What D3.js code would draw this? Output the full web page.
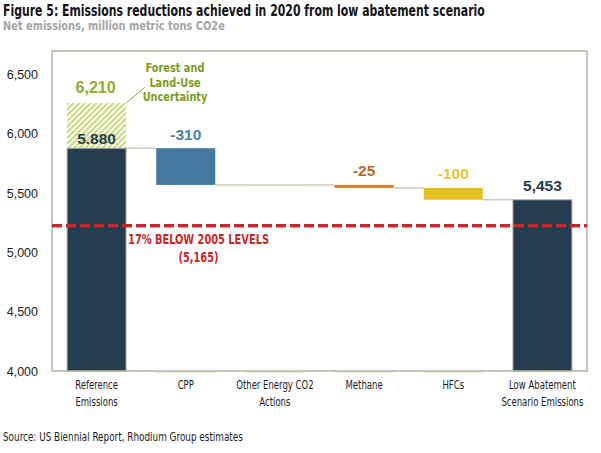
<!DOCTYPE html>
<html>
<head>
<meta charset="utf-8">
<script src="https://cdn.jsdelivr.net/npm/d3@7"></script>
<style>
  html, body { margin: 0; padding: 0; background: #fff; }
  svg { display: block; }
  .narrow { font-family: "Liberation Sans Narrow", "Arial Narrow", "DejaVu Sans Condensed", sans-serif; }
  .reg { font-family: "Liberation Sans", Arial, sans-serif; }
</style>
</head>
<body>
<svg id="chart" width="601" height="453"></svg>
<script>
// ---------- data ----------
const titleText = "Figure 5: Emissions reductions achieved in 2020 from low abatement scenario";
const subtitleText = "Net emissions, million metric tons CO2e";
const sourceText = "Source: US Biennial Report, Rhodium Group estimates";

const categories = [
  ["Reference", "Emissions"],
  ["CPP"],
  ["Other Energy CO2", "Actions"],
  ["Methane"],
  ["HFCs"],
  ["Low Abatement", "Scenario Emissions"]
];
// first value is the starting total, middle values are changes, last is the resulting total
const changes = [5880, -310, 0, -25, -100, null];
const barKinds = ["total", "delta", "delta", "delta", "delta", "total"];
const valueLabels = ["5.880", "-310", "", "-25", "-100", "5,453"];
const barColors = ["#263d4f", "#457aa0", "#ffffff", "#e07b26", "#e3c11f", "#263d4f"];
const labelColors = ["#263d4f", "#4a7fa9", "#ffffff", "#c4661e", "#e8c43a", "#263d4f"];

const uncertaintyTop = 6260;
const uncertaintyLabel = "6,210";
const uncertaintyNote = ["Forest and", "Land-Use", "Uncertainty"];

const targetLevel = 5225;
const targetLabel = ["17% BELOW 2005 LEVELS", "(5,165)"];

const yTicks = [4000, 4500, 5000, 5500, 6000, 6500];
const yDomain = [4000, 6700];

// ---------- helpers ----------
// place a horizontally condensed text at (px, py) using a scale transform
function addText(parent, px, py, str, k, attrs) {
  const t = parent.append("text").attr("x", 0).attr("y", 0)
    .attr("transform", `translate(${px},${py}) scale(${k},1)`).text(str);
  Object.entries(attrs).forEach(([a, v]) => t.attr(a, v));
  return t;
}
function fitWidth(t, px, py, target) {
  const w = t.node().getComputedTextLength();
  t.attr("transform", `translate(${px},${py}) scale(${target / w},1)`);
}

// ---------- layout ----------
const svg = d3.select("#chart");
const plot = { left: 52, right: 587, top: 51, bottom: 371 };

const y = d3.scaleLinear().domain(yDomain).range([plot.bottom, plot.top]);
const x = d3.scaleBand().domain(d3.range(categories.length))
  .range([plot.left, plot.right]).paddingInner(0.338).paddingOuter(0.169);

// compute waterfall bars
let running = 0;
const bars = changes.map((v, i) => {
  let lo, hi, end;
  if (barKinds[i] === "total") {
    const val = (v === null) ? running : v;
    lo = yDomain[0]; hi = val; end = val; running = val;
  } else {
    const start = running; end = running + v; running = end;
    lo = Math.min(start, end); hi = Math.max(start, end);
  }
  return { i, lo, hi, end, kind: barKinds[i] };
});

// hatch pattern
const defs = svg.append("defs");
const pat = defs.append("pattern").attr("id", "hatch")
  .attr("patternUnits", "userSpaceOnUse").attr("width", 4).attr("height", 4)
  .attr("patternTransform", "rotate(45)");
pat.append("rect").attr("width", 4).attr("height", 4).attr("fill", "#ffffff");
pat.append("rect").attr("width", 2.2).attr("height", 4).attr("fill", "#c9dc82");

// title
const title = addText(svg, 3, 15.5, titleText, 1, {
  class: "narrow", "font-size": 16, "font-weight": "bold", fill: "#141414" });
fitWidth(title, 3, 15.5, 482);
const subtitle = addText(svg, 3, 30, subtitleText, 1, {
  class: "narrow", "font-size": 12.5, "font-weight": "bold", fill: "#a5a5a5" });
fitWidth(subtitle, 3, 30, 222);

// uncertainty hatched bar
svg.append("rect")
  .attr("x", x(0)).attr("width", x.bandwidth())
  .attr("y", y(uncertaintyTop)).attr("height", y(changes[0]) - y(uncertaintyTop))
  .attr("fill", "url(#hatch)");

// faint base lines under delta bars
svg.append("g").selectAll("line").data(bars.filter(b => b.kind === "delta")).join("line")
  .attr("x1", d => x(d.i)).attr("x2", d => x(d.i) + x.bandwidth())
  .attr("y1", plot.bottom + 1.5).attr("y2", plot.bottom + 1.5)
  .attr("stroke", "#e4e1d8").attr("stroke-width", 1);

// connectors
const conn = [];
for (let k = 0; k < bars.length - 1; k++) {
  conn.push({ x1: x(k) + x.bandwidth(), x2: x(k + 1), v: bars[k].end });
}
bars.filter(b => b.kind === "delta" && b.hi === b.lo).forEach(b => {
  conn.push({ x1: x(b.i), x2: x(b.i) + x.bandwidth(), v: b.end });
});
svg.append("g").selectAll("line").data(conn).join("line")
  .attr("x1", d => d.x1).attr("x2", d => d.x2)
  .attr("y1", d => y(d.v)).attr("y2", d => y(d.v))
  .attr("stroke", "#cfcabd").attr("stroke-width", 1.5);

// bars
svg.append("g").selectAll("rect").data(bars.filter(b => b.hi > b.lo)).join("rect")
  .attr("x", d => x(d.i)).attr("width", x.bandwidth())
  .attr("y", d => y(d.hi)).attr("height", d => y(d.lo) - y(d.hi))
  .attr("fill", d => barColors[d.i])
  .attr("stroke", d => d.kind === "total" ? "#b9b4a6" : "none")
  .attr("stroke-width", 1);

// frame
svg.append("rect").attr("x", plot.left).attr("y", plot.top)
  .attr("width", plot.right - plot.left).attr("height", plot.bottom - plot.top)
  .attr("fill", "none").attr("stroke", "#aca693").attr("stroke-width", 1.3);

// y axis
const yAxis = svg.append("g").attr("transform", `translate(${plot.left},0)`)
  .call(d3.axisLeft(y).tickValues(yTicks).tickSize(0).tickPadding(14).tickFormat(d3.format(",")));
yAxis.select(".domain").remove();
yAxis.selectAll("text").attr("class", "reg").attr("font-size", 12.5).attr("fill", "#1c1c1c")
  .attr("font-family", null);

// x axis
const xAxis = svg.append("g").attr("transform", `translate(0,${plot.bottom})`)
  .call(d3.axisBottom(x).tickSize(0).tickPadding(0).tickFormat(""));
xAxis.select(".domain").remove();
xAxis.selectAll(".tick").each(function (d) {
  const g = d3.select(this);
  categories[d].forEach((line, j) => {
    addText(g, 0, 18 + j * 17, line, 0.79, {
      class: "narrow", "text-anchor": "middle", "font-size": 12, fill: "#1c1c1c" });
  });
});

// target line
svg.append("line").attr("x1", plot.left).attr("x2", plot.right)
  .attr("y1", y(targetLevel)).attr("y2", y(targetLevel))
  .attr("stroke", "#c8282d").attr("stroke-width", 3.5).attr("stroke-dasharray", "10,4");
targetLabel.forEach((line, j) => {
  addText(svg, 198.5, y(targetLevel) + 18 + j * 18, line, 0.78, {
    class: "narrow", "text-anchor": "middle", "font-size": 14, "font-weight": "bold", fill: "#c8282d" });
});

// value labels
svg.append("g").selectAll("text").data(bars.filter(b => valueLabels[b.i] !== "")).join("text")
  .attr("class", "reg")
  .attr("x", d => x(d.i) + x.bandwidth() / 2)
  .attr("y", d => y(d.hi) - (d.i === 0 ? 4 : 8.5))
  .attr("text-anchor", "middle").attr("font-size", 15.5).attr("font-weight", "bold")
  .attr("fill", d => labelColors[d.i]).text(d => valueLabels[d.i]);

// uncertainty labels
svg.append("text").attr("class", "reg")
  .attr("x", x(0) + x.bandwidth() / 2 - 1).attr("y", y(uncertaintyTop) - 10)
  .attr("text-anchor", "middle").attr("font-size", 16).attr("font-weight", "bold")
  .attr("fill", "#8cae2c").text(uncertaintyLabel);
svg.append("line")
  .attr("x1", x(0) + x.bandwidth()).attr("y1", y(uncertaintyTop))
  .attr("x2", x(0) + x.bandwidth() + 19).attr("y2", y(uncertaintyTop) - 16)
  .attr("stroke", "#8cae2c").attr("stroke-width", 1);
uncertaintyNote.forEach((line, j) => {
  addText(svg, 175, 72 + j * 14.5, line, 0.87, {
    class: "narrow", "text-anchor": "middle", "font-size": 12.5, "font-weight": "bold", fill: "#7d9c1c" });
});

// source
addText(svg, 3, 441, sourceText, 0.82, {
  class: "narrow", "font-size": 12, fill: "#1c1c1c" });
</script>
</body>
</html>
